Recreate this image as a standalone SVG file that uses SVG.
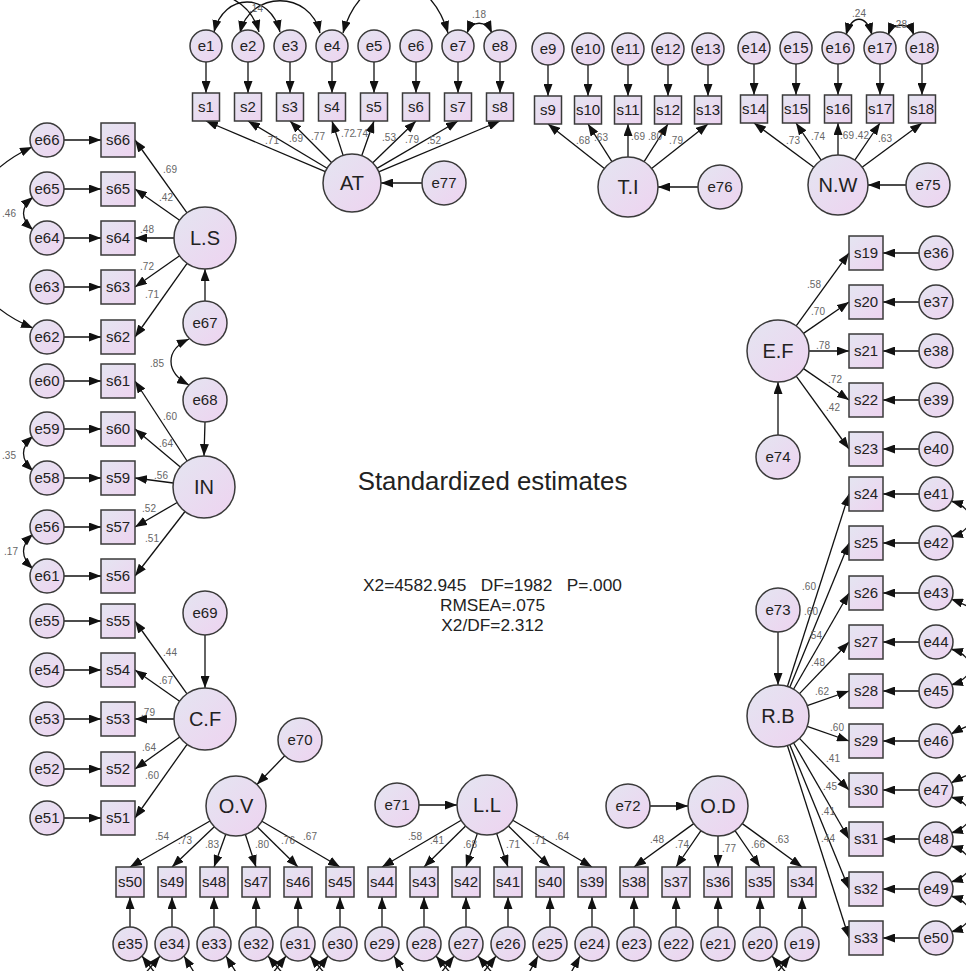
<svg xmlns="http://www.w3.org/2000/svg" width="966" height="971" viewBox="0 0 966 971">
<defs>
<linearGradient id="g" x1="0" y1="0" x2="1" y2="1">
<stop offset="0" stop-color="#e4e5f1"/>
<stop offset="1" stop-color="#eed3f0"/>
</linearGradient>
<marker id="a" viewBox="0 0 12 9" refX="12" refY="4.5" markerWidth="12" markerHeight="9" orient="auto" markerUnits="userSpaceOnUse">
<path d="M0,0 L12,4.5 L0,9 z" fill="#111"/>
</marker>
<marker id="b" viewBox="0 0 12 9" refX="12" refY="4.5" markerWidth="12" markerHeight="9" orient="auto-start-reverse" markerUnits="userSpaceOnUse">
<path d="M0,0 L12,4.5 L0,9 z" fill="#111"/>
</marker>
<style>
circle,rect{fill:url(#g);stroke:#3a3a3a;stroke-width:1.5}
text{font-family:"Liberation Sans",Arial,sans-serif;fill:#222;text-anchor:middle}
.t{font-size:15px}
.L{font-size:20px}
.v{font-size:10px;fill:#666}
#conn line,#conn path.s{stroke:#111;stroke-width:1.3;fill:none;marker-end:url(#a)}
#conn path.d{stroke:#111;stroke-width:1.3;fill:none;marker-start:url(#b);marker-end:url(#b)}
</style>
</defs>
<rect x="0" y="0" width="966" height="971" style="fill:#fff;stroke:none"/>

<g id="conn">
<!-- AT -->
<line x1="206" y1="62" x2="206" y2="93"/><line x1="248" y1="62" x2="248" y2="93"/><line x1="290" y1="62" x2="290" y2="93"/><line x1="332" y1="62" x2="332" y2="93"/>
<line x1="374" y1="62" x2="374" y2="93"/><line x1="416" y1="62" x2="416" y2="93"/><line x1="458" y1="62" x2="458" y2="93"/><line x1="500" y1="62" x2="500" y2="93"/>
<line x1="325.3" y1="171.7" x2="206" y2="121"/><line x1="327.1" y1="168.2" x2="248" y2="121"/><line x1="331.5" y1="162.5" x2="290" y2="121"/><line x1="343.1" y1="155.4" x2="332" y2="121"/>
<line x1="361.7" y1="155.7" x2="374" y2="121"/><line x1="372.8" y1="162.8" x2="416" y2="121"/><line x1="377" y1="168.4" x2="458" y2="121"/><line x1="378.7" y1="171.8" x2="500" y2="121"/>
<line x1="422" y1="183" x2="381" y2="183"/>
<path class="d" d="M214,32 C224,-8 270,-8 280,32"/>
<path class="d" d="M240,33 C250,-10 310,-10 320,33"/>
<path class="s" d="M226,-4 Q252,6 259,32"/>
<path class="d" d="M343,33 C362,-35 428,-35 448,33"/>
<path class="d" d="M467,33 C472,20 486,20 492,33"/>
<!-- T.I -->
<line x1="548" y1="65" x2="548" y2="96"/><line x1="588" y1="65" x2="588" y2="96"/><line x1="628" y1="65" x2="628" y2="96"/><line x1="668" y1="65" x2="668" y2="96"/><line x1="708" y1="65" x2="708" y2="96"/>
<line x1="604.4" y1="168.4" x2="548" y2="124"/><line x1="611.9" y1="161.7" x2="588" y2="124"/><line x1="628" y1="157" x2="628" y2="124"/><line x1="644.1" y1="161.7" x2="668" y2="124"/><line x1="651.6" y1="168.4" x2="708" y2="124"/>
<line x1="698" y1="187" x2="658" y2="187"/>
<!-- N.W -->
<line x1="754" y1="64" x2="754" y2="95"/><line x1="796" y1="64" x2="796" y2="95"/><line x1="838" y1="64" x2="838" y2="95"/><line x1="880" y1="64" x2="880" y2="95"/><line x1="922" y1="64" x2="922" y2="95"/>
<line x1="813.9" y1="167.2" x2="754" y2="123"/><line x1="821.2" y1="160.2" x2="796" y2="123"/><line x1="838" y1="155" x2="838" y2="123"/><line x1="854.8" y1="160.2" x2="880" y2="123"/><line x1="862.1" y1="167.2" x2="922" y2="123"/>
<line x1="906" y1="185" x2="868" y2="185"/>
<path class="d" d="M846,35 C852,14 866,14 872,35"/>
<path class="d" d="M888,35 C893,22 909,22 914,35"/>
<!-- L.S -->
<line x1="64" y1="140" x2="101" y2="140"/><line x1="64" y1="189" x2="101" y2="189"/><line x1="64" y1="238" x2="101" y2="238"/><line x1="64" y1="287" x2="101" y2="287"/><line x1="64" y1="337" x2="101" y2="337"/>
<line x1="187" y1="212.8" x2="135" y2="140"/><line x1="179.6" y1="220.2" x2="135" y2="189"/><line x1="174" y1="238" x2="135" y2="238"/><line x1="179.6" y1="255.8" x2="135" y2="287"/><line x1="187.1" y1="263.3" x2="135" y2="337"/>
<line x1="205" y1="301" x2="205" y2="269"/>
<path class="d" d="M33,197 Q14,213 33,230"/>
<path class="d" d="M32,147 C-60,190 -60,290 33,328"/>
<path class="d" d="M189,339 C165,350 165,372 189,385"/>
<!-- IN -->
<line x1="64" y1="381" x2="101" y2="381"/><line x1="64" y1="429" x2="101" y2="429"/><line x1="64" y1="478" x2="101" y2="478"/><line x1="64" y1="527" x2="101" y2="527"/><line x1="64" y1="576" x2="101" y2="576"/>
<line x1="187.1" y1="461" x2="135" y2="381"/><line x1="180.3" y1="467" x2="135" y2="429"/><line x1="173.3" y1="483" x2="135" y2="478"/><line x1="177.2" y1="502.5" x2="135" y2="527"/><line x1="185" y1="511.5" x2="135" y2="576"/>
<line x1="205" y1="422" x2="204" y2="456"/>
<path class="d" d="M33,436 Q14,453 33,471"/>
<path class="d" d="M33,534 Q14,551 33,569"/>
<!-- C.F -->
<line x1="64" y1="621" x2="101" y2="621"/><line x1="64" y1="670" x2="101" y2="670"/><line x1="64" y1="719" x2="101" y2="719"/><line x1="64" y1="769" x2="101" y2="769"/><line x1="64" y1="818" x2="101" y2="818"/>
<line x1="187" y1="693.8" x2="135" y2="621"/><line x1="179.6" y1="701.2" x2="135" y2="670"/><line x1="174" y1="719" x2="135" y2="719"/><line x1="179.8" y1="737" x2="135" y2="769"/><line x1="187.1" y1="744.3" x2="135" y2="818"/>
<line x1="205" y1="635" x2="205" y2="688"/>
<!-- O.V -->
<line x1="284.7" y1="755.8" x2="256.9" y2="784.5"/>
<line x1="210" y1="821" x2="130" y2="867"/><line x1="214.3" y1="826.7" x2="172" y2="867"/><line x1="225.8" y1="834.2" x2="214" y2="867"/><line x1="245.4" y1="834.5" x2="256" y2="867"/><line x1="257.4" y1="827" x2="298" y2="867"/><line x1="261.9" y1="821.2" x2="340" y2="867"/>
<line x1="130" y1="927" x2="130" y2="897"/><line x1="172" y1="927" x2="172" y2="897"/><line x1="214" y1="927" x2="214" y2="897"/><line x1="256" y1="927" x2="256" y2="897"/><line x1="298" y1="927" x2="298" y2="897"/><line x1="340" y1="927" x2="340" y2="897"/>
<!-- L.L -->
<line x1="419" y1="805" x2="457" y2="805"/>
<line x1="461.2" y1="820.3" x2="382" y2="867"/><line x1="465.6" y1="826" x2="424" y2="867"/><line x1="477.4" y1="833.4" x2="466" y2="867"/><line x1="496.6" y1="833.4" x2="508" y2="867"/><line x1="508.4" y1="826" x2="550" y2="867"/><line x1="512.8" y1="820.3" x2="592" y2="867"/>
<line x1="382" y1="927" x2="382" y2="897"/><line x1="424" y1="927" x2="424" y2="897"/><line x1="466" y1="927" x2="466" y2="897"/><line x1="508" y1="927" x2="508" y2="897"/><line x1="550" y1="927" x2="550" y2="897"/><line x1="592" y1="927" x2="592" y2="897"/>
<!-- O.D -->
<line x1="650" y1="806" x2="688" y2="806"/>
<line x1="693.7" y1="823.6" x2="634" y2="867"/><line x1="701" y1="830.7" x2="676" y2="867"/><line x1="718" y1="836" x2="718" y2="867"/><line x1="735" y1="830.7" x2="760" y2="867"/><line x1="742.3" y1="823.6" x2="802" y2="867"/>
<line x1="634" y1="927" x2="634" y2="897"/><line x1="676" y1="927" x2="676" y2="897"/><line x1="718" y1="927" x2="718" y2="897"/><line x1="760" y1="927" x2="760" y2="897"/><line x1="802" y1="927" x2="802" y2="897"/>
<!-- bottom covariances (cut by the lower edge) -->
<path class="s" d="M162,982 L142,956"/><path class="s" d="M138,982 L160,956"/>
<path class="s" d="M200,982 L184,956"/>
<path class="s" d="M242,982 L226,956"/>
<path class="s" d="M290,982 L268,956"/><path class="s" d="M266,982 L286,956"/>
<path class="s" d="M332,982 L310,956"/><path class="s" d="M308,982 L328,956"/>
<path class="s" d="M410,982 L394,956"/>
<path class="s" d="M458,982 L436,956"/><path class="s" d="M434,982 L454,956"/>
<path class="s" d="M500,982 L478,956"/><path class="s" d="M476,982 L496,956"/>
<path class="s" d="M524,982 L538,956"/>
<path class="s" d="M566,982 L580,956"/>
<path class="s" d="M794,982 L772,956"/><path class="s" d="M770,982 L790,956"/>
<!-- E.F -->
<line x1="778" y1="435" x2="778" y2="382"/>
<line x1="796.2" y1="325.9" x2="849" y2="253"/><line x1="803.5" y1="333.4" x2="849" y2="302"/><line x1="809" y1="351" x2="849" y2="351"/><line x1="803.5" y1="368.6" x2="849" y2="400"/><line x1="796.2" y1="376.1" x2="849" y2="449"/>
<line x1="919" y1="253" x2="883" y2="253"/><line x1="919" y1="302" x2="883" y2="302"/><line x1="919" y1="351" x2="883" y2="351"/><line x1="919" y1="400" x2="883" y2="400"/><line x1="919" y1="449" x2="883" y2="449"/>
<!-- R.B -->
<line x1="778" y1="632" x2="778" y2="685"/>
<line x1="787.4" y1="686.5" x2="849" y2="494"/><line x1="789.8" y1="687.3" x2="849" y2="543"/><line x1="793.5" y1="689.2" x2="849" y2="593"/><line x1="799.5" y1="693.6" x2="849" y2="642"/><line x1="807.2" y1="705.7" x2="849" y2="691"/>
<line x1="807.2" y1="726.3" x2="849" y2="741"/><line x1="799.5" y1="738.4" x2="849" y2="790"/><line x1="793.5" y1="742.8" x2="849" y2="839"/><line x1="789.8" y1="744.7" x2="849" y2="889"/><line x1="787.4" y1="745.5" x2="849" y2="938"/>
<line x1="919" y1="494" x2="883" y2="494"/><line x1="919" y1="543" x2="883" y2="543"/><line x1="919" y1="593" x2="883" y2="593"/><line x1="919" y1="642" x2="883" y2="642"/><line x1="919" y1="691" x2="883" y2="691"/>
<line x1="919" y1="741" x2="883" y2="741"/><line x1="919" y1="790" x2="883" y2="790"/><line x1="919" y1="839" x2="883" y2="839"/><line x1="919" y1="889" x2="883" y2="889"/><line x1="919" y1="938" x2="883" y2="938"/>
<path class="d" d="M951,501 C976,508 976,530 951,537"/>
<path class="s" d="M978,612 Q962,603 951,599"/>
<path class="d" d="M951,649 C976,656 976,678 951,685"/>
<path class="s" d="M978,722 Q962,728 951,734"/>
<path class="s" d="M978,771 Q962,777 951,783"/>
<path class="d" d="M951,797 C976,804 976,826 951,833"/>
<path class="d" d="M951,846 C976,853 976,875 951,882"/>
<path class="d" d="M951,896 C976,903 976,925 951,932"/>
</g>

<g id="coef">
<text class="v" x="272" y="144">.71</text><text class="v" x="296" y="142">.69</text><text class="v" x="318" y="140">.77</text><text class="v" x="348" y="137">.72</text><text class="v" x="361" y="137">.74</text><text class="v" x="389" y="141">.53</text><text class="v" x="412" y="143">.79</text><text class="v" x="434" y="144">.52</text>
<text class="v" x="256" y="12">.14</text><text class="v" x="479" y="18">.18</text>
<text class="v" x="583" y="144">.68</text><text class="v" x="601" y="141">.63</text><text class="v" x="638" y="140">.69</text><text class="v" x="655" y="140">.80</text><text class="v" x="676" y="144">.79</text>
<text class="v" x="793" y="144">.73</text><text class="v" x="818" y="140">.74</text><text class="v" x="847" y="139">.69</text><text class="v" x="862" y="139">.42</text><text class="v" x="885" y="142">.63</text>
<text class="v" x="859" y="17">.24</text><text class="v" x="900" y="28">.28</text>
<text class="v" x="170" y="173">.69</text><text class="v" x="166" y="201">.42</text><text class="v" x="147" y="233">.48</text><text class="v" x="147" y="270">.72</text><text class="v" x="152" y="298">.71</text>
<text class="v" x="9" y="217">.46</text><text class="v" x="157" y="367">.85</text>
<text class="v" x="170" y="420">.60</text><text class="v" x="166" y="447">.64</text><text class="v" x="161" y="479">.56</text><text class="v" x="149" y="512">.52</text><text class="v" x="152" y="542">.51</text>
<text class="v" x="9" y="459">.35</text><text class="v" x="11" y="555">.17</text>
<text class="v" x="170" y="656">.44</text><text class="v" x="166" y="684">.67</text><text class="v" x="148" y="716">.79</text><text class="v" x="149" y="751">.64</text><text class="v" x="152" y="779">.60</text>
<text class="v" x="162" y="840">.54</text><text class="v" x="185" y="844">.73</text><text class="v" x="212" y="848">.83</text><text class="v" x="262" y="848">.80</text><text class="v" x="288" y="844">.76</text><text class="v" x="310" y="840">.67</text>
<text class="v" x="415" y="840">.58</text><text class="v" x="437" y="844">.41</text><text class="v" x="470" y="848">.68</text><text class="v" x="513" y="848">.71</text><text class="v" x="539" y="844">.71</text><text class="v" x="562" y="840">.64</text>
<text class="v" x="657" y="843">.48</text><text class="v" x="682" y="848">.74</text><text class="v" x="729" y="852">.77</text><text class="v" x="758" y="848">.66</text><text class="v" x="782" y="843">.63</text>
<text class="v" x="814" y="288">.58</text><text class="v" x="818" y="315">.70</text><text class="v" x="823" y="349">.78</text><text class="v" x="835" y="383">.72</text><text class="v" x="833" y="411">.42</text>
<text class="v" x="809" y="590">.60</text><text class="v" x="811" y="615">.60</text><text class="v" x="815" y="639">.54</text><text class="v" x="818" y="666">.48</text><text class="v" x="822" y="695">.62</text>
<text class="v" x="837" y="731">.60</text><text class="v" x="833" y="762">.41</text><text class="v" x="830" y="790">.45</text><text class="v" x="828" y="815">.41</text><text class="v" x="828" y="842">.44</text>
</g>

<!-- AT group -->
<g id="e1"><circle cx="206" cy="46" r="16"/><text class="t" x="206" y="51">e1</text></g>
<g id="e2"><circle cx="248" cy="46" r="16"/><text class="t" x="248" y="51">e2</text></g>
<g id="e3"><circle cx="290" cy="46" r="16"/><text class="t" x="290" y="51">e3</text></g>
<g id="e4"><circle cx="332" cy="46" r="16"/><text class="t" x="332" y="51">e4</text></g>
<g id="e5"><circle cx="374" cy="46" r="16"/><text class="t" x="374" y="51">e5</text></g>
<g id="e6"><circle cx="416" cy="46" r="16"/><text class="t" x="416" y="51">e6</text></g>
<g id="e7"><circle cx="458" cy="46" r="16"/><text class="t" x="458" y="51">e7</text></g>
<g id="e8"><circle cx="500" cy="46" r="16"/><text class="t" x="500" y="51">e8</text></g>
<g id="s1"><rect x="192.5" y="93" width="27" height="28"/><text class="t" x="206" y="112">s1</text></g>
<g id="s2"><rect x="234.5" y="93" width="27" height="28"/><text class="t" x="248" y="112">s2</text></g>
<g id="s3"><rect x="276.5" y="93" width="27" height="28"/><text class="t" x="290" y="112">s3</text></g>
<g id="s4"><rect x="318.5" y="93" width="27" height="28"/><text class="t" x="332" y="112">s4</text></g>
<g id="s5"><rect x="360.5" y="93" width="27" height="28"/><text class="t" x="374" y="112">s5</text></g>
<g id="s6"><rect x="402.5" y="93" width="27" height="28"/><text class="t" x="416" y="112">s6</text></g>
<g id="s7"><rect x="444.5" y="93" width="27" height="28"/><text class="t" x="458" y="112">s7</text></g>
<g id="s8"><rect x="486.5" y="93" width="27" height="28"/><text class="t" x="500" y="112">s8</text></g>
<g id="AT"><circle cx="352" cy="183" r="29"/><text class="L" x="352" y="190">AT</text></g>
<g id="e77"><circle cx="444" cy="183" r="22"/><text class="t" x="444" y="188">e77</text></g>

<!-- T.I group -->
<g id="e9"><circle cx="548" cy="49" r="16"/><text class="t" x="548" y="54">e9</text></g>
<g id="e10"><circle cx="588" cy="49" r="16"/><text class="t" x="588" y="54">e10</text></g>
<g id="e11"><circle cx="628" cy="49" r="16"/><text class="t" x="628" y="54">e11</text></g>
<g id="e12"><circle cx="668" cy="49" r="16"/><text class="t" x="668" y="54">e12</text></g>
<g id="e13"><circle cx="708" cy="49" r="16"/><text class="t" x="708" y="54">e13</text></g>
<g id="s9"><rect x="534.5" y="96" width="27" height="28"/><text class="t" x="548" y="115">s9</text></g>
<g id="s10"><rect x="574.5" y="96" width="27" height="28"/><text class="t" x="588" y="115">s10</text></g>
<g id="s11"><rect x="614.5" y="96" width="27" height="28"/><text class="t" x="628" y="115">s11</text></g>
<g id="s12"><rect x="654.5" y="96" width="27" height="28"/><text class="t" x="668" y="115">s12</text></g>
<g id="s13"><rect x="694.5" y="96" width="27" height="28"/><text class="t" x="708" y="115">s13</text></g>
<g id="TI"><circle cx="628" cy="187" r="30"/><text class="L" x="628" y="194">T.I</text></g>
<g id="e76"><circle cx="720" cy="187" r="22"/><text class="t" x="720" y="192">e76</text></g>

<!-- N.W group -->
<g id="e14"><circle cx="754" cy="48" r="16"/><text class="t" x="754" y="53">e14</text></g>
<g id="e15"><circle cx="796" cy="48" r="16"/><text class="t" x="796" y="53">e15</text></g>
<g id="e16"><circle cx="838" cy="48" r="16"/><text class="t" x="838" y="53">e16</text></g>
<g id="e17"><circle cx="880" cy="48" r="16"/><text class="t" x="880" y="53">e17</text></g>
<g id="e18"><circle cx="922" cy="48" r="16"/><text class="t" x="922" y="53">e18</text></g>
<g id="s14"><rect x="740.5" y="95" width="27" height="28"/><text class="t" x="754" y="114">s14</text></g>
<g id="s15"><rect x="782.5" y="95" width="27" height="28"/><text class="t" x="796" y="114">s15</text></g>
<g id="s16"><rect x="824.5" y="95" width="27" height="28"/><text class="t" x="838" y="114">s16</text></g>
<g id="s17"><rect x="866.5" y="95" width="27" height="28"/><text class="t" x="880" y="114">s17</text></g>
<g id="s18"><rect x="908.5" y="95" width="27" height="28"/><text class="t" x="922" y="114">s18</text></g>
<g id="NW"><circle cx="838" cy="185" r="30"/><text class="L" x="838" y="192">N.W</text></g>
<g id="e75"><circle cx="928" cy="185" r="22"/><text class="t" x="928" y="190">e75</text></g>

<!-- L.S group -->
<g id="e66"><circle cx="47" cy="140" r="17"/><text class="t" x="47" y="145">e66</text></g>
<g id="e65"><circle cx="47" cy="189" r="17"/><text class="t" x="47" y="194">e65</text></g>
<g id="e64"><circle cx="47" cy="238" r="17"/><text class="t" x="47" y="243">e64</text></g>
<g id="e63"><circle cx="47" cy="287" r="17"/><text class="t" x="47" y="292">e63</text></g>
<g id="e62"><circle cx="47" cy="337" r="17"/><text class="t" x="47" y="342">e62</text></g>
<g id="s66"><rect x="101" y="123" width="34" height="34"/><text class="t" x="118" y="145">s66</text></g>
<g id="s65"><rect x="101" y="172" width="34" height="34"/><text class="t" x="118" y="194">s65</text></g>
<g id="s64"><rect x="101" y="221" width="34" height="34"/><text class="t" x="118" y="243">s64</text></g>
<g id="s63"><rect x="101" y="270" width="34" height="34"/><text class="t" x="118" y="292">s63</text></g>
<g id="s62"><rect x="101" y="320" width="34" height="34"/><text class="t" x="118" y="342">s62</text></g>
<g id="LS"><circle cx="205" cy="238" r="31"/><text class="L" x="205" y="245">L.S</text></g>
<g id="e67"><circle cx="205" cy="323" r="22"/><text class="t" x="205" y="328">e67</text></g>

<!-- IN group -->
<g id="e60"><circle cx="47" cy="381" r="17"/><text class="t" x="47" y="386">e60</text></g>
<g id="e59"><circle cx="47" cy="429" r="17"/><text class="t" x="47" y="434">e59</text></g>
<g id="e58"><circle cx="47" cy="478" r="17"/><text class="t" x="47" y="483">e58</text></g>
<g id="e56"><circle cx="47" cy="527" r="17"/><text class="t" x="47" y="532">e56</text></g>
<g id="e61"><circle cx="47" cy="576" r="17"/><text class="t" x="47" y="581">e61</text></g>
<g id="s61"><rect x="101" y="364" width="34" height="34"/><text class="t" x="118" y="386">s61</text></g>
<g id="s60"><rect x="101" y="412" width="34" height="34"/><text class="t" x="118" y="434">s60</text></g>
<g id="s59"><rect x="101" y="461" width="34" height="34"/><text class="t" x="118" y="483">s59</text></g>
<g id="s57"><rect x="101" y="510" width="34" height="34"/><text class="t" x="118" y="532">s57</text></g>
<g id="s56"><rect x="101" y="559" width="34" height="34"/><text class="t" x="118" y="581">s56</text></g>
<g id="IN"><circle cx="204" cy="487" r="31"/><text class="L" x="204" y="494">IN</text></g>
<g id="e68"><circle cx="205" cy="400" r="22"/><text class="t" x="205" y="405">e68</text></g>

<!-- C.F group -->
<g id="e55"><circle cx="47" cy="621" r="17"/><text class="t" x="47" y="626">e55</text></g>
<g id="e54"><circle cx="47" cy="670" r="17"/><text class="t" x="47" y="675">e54</text></g>
<g id="e53"><circle cx="47" cy="719" r="17"/><text class="t" x="47" y="724">e53</text></g>
<g id="e52"><circle cx="47" cy="769" r="17"/><text class="t" x="47" y="774">e52</text></g>
<g id="e51"><circle cx="47" cy="818" r="17"/><text class="t" x="47" y="823">e51</text></g>
<g id="s55"><rect x="101" y="604" width="34" height="34"/><text class="t" x="118" y="626">s55</text></g>
<g id="s54"><rect x="101" y="653" width="34" height="34"/><text class="t" x="118" y="675">s54</text></g>
<g id="s53"><rect x="101" y="702" width="34" height="34"/><text class="t" x="118" y="724">s53</text></g>
<g id="s52"><rect x="101" y="752" width="34" height="34"/><text class="t" x="118" y="774">s52</text></g>
<g id="s51"><rect x="101" y="801" width="34" height="34"/><text class="t" x="118" y="823">s51</text></g>
<g id="CF"><circle cx="205" cy="719" r="31"/><text class="L" x="205" y="726">C.F</text></g>
<g id="e69"><circle cx="205" cy="613" r="22"/><text class="t" x="205" y="618">e69</text></g>

<!-- O.V group -->
<g id="OV"><circle cx="236" cy="806" r="30"/><text class="L" x="236" y="813">O.V</text></g>
<g id="e70"><circle cx="300" cy="740" r="22"/><text class="t" x="300" y="745">e70</text></g>
<g id="s50"><rect x="116" y="867" width="28" height="30"/><text class="t" x="130" y="887">s50</text></g>
<g id="s49"><rect x="158" y="867" width="28" height="30"/><text class="t" x="172" y="887">s49</text></g>
<g id="s48"><rect x="200" y="867" width="28" height="30"/><text class="t" x="214" y="887">s48</text></g>
<g id="s47"><rect x="242" y="867" width="28" height="30"/><text class="t" x="256" y="887">s47</text></g>
<g id="s46"><rect x="284" y="867" width="28" height="30"/><text class="t" x="298" y="887">s46</text></g>
<g id="s45"><rect x="326" y="867" width="28" height="30"/><text class="t" x="340" y="887">s45</text></g>
<g id="e35"><circle cx="130" cy="944" r="17"/><text class="t" x="130" y="949">e35</text></g>
<g id="e34"><circle cx="172" cy="944" r="17"/><text class="t" x="172" y="949">e34</text></g>
<g id="e33"><circle cx="214" cy="944" r="17"/><text class="t" x="214" y="949">e33</text></g>
<g id="e32"><circle cx="256" cy="944" r="17"/><text class="t" x="256" y="949">e32</text></g>
<g id="e31"><circle cx="298" cy="944" r="17"/><text class="t" x="298" y="949">e31</text></g>
<g id="e30"><circle cx="340" cy="944" r="17"/><text class="t" x="340" y="949">e30</text></g>

<!-- L.L group -->
<g id="LL"><circle cx="487" cy="805" r="30"/><text class="L" x="487" y="812">L.L</text></g>
<g id="e71"><circle cx="397" cy="805" r="22"/><text class="t" x="397" y="810">e71</text></g>
<g id="s44"><rect x="368" y="867" width="28" height="30"/><text class="t" x="382" y="887">s44</text></g>
<g id="s43"><rect x="410" y="867" width="28" height="30"/><text class="t" x="424" y="887">s43</text></g>
<g id="s42"><rect x="452" y="867" width="28" height="30"/><text class="t" x="466" y="887">s42</text></g>
<g id="s41"><rect x="494" y="867" width="28" height="30"/><text class="t" x="508" y="887">s41</text></g>
<g id="s40"><rect x="536" y="867" width="28" height="30"/><text class="t" x="550" y="887">s40</text></g>
<g id="s39"><rect x="578" y="867" width="28" height="30"/><text class="t" x="592" y="887">s39</text></g>
<g id="e29"><circle cx="382" cy="944" r="17"/><text class="t" x="382" y="949">e29</text></g>
<g id="e28"><circle cx="424" cy="944" r="17"/><text class="t" x="424" y="949">e28</text></g>
<g id="e27"><circle cx="466" cy="944" r="17"/><text class="t" x="466" y="949">e27</text></g>
<g id="e26"><circle cx="508" cy="944" r="17"/><text class="t" x="508" y="949">e26</text></g>
<g id="e25"><circle cx="550" cy="944" r="17"/><text class="t" x="550" y="949">e25</text></g>
<g id="e24"><circle cx="592" cy="944" r="17"/><text class="t" x="592" y="949">e24</text></g>

<!-- O.D group -->
<g id="OD"><circle cx="718" cy="806" r="30"/><text class="L" x="718" y="813">O.D</text></g>
<g id="e72"><circle cx="628" cy="806" r="22"/><text class="t" x="628" y="811">e72</text></g>
<g id="s38"><rect x="620" y="867" width="28" height="30"/><text class="t" x="634" y="887">s38</text></g>
<g id="s37"><rect x="662" y="867" width="28" height="30"/><text class="t" x="676" y="887">s37</text></g>
<g id="s36"><rect x="704" y="867" width="28" height="30"/><text class="t" x="718" y="887">s36</text></g>
<g id="s35"><rect x="746" y="867" width="28" height="30"/><text class="t" x="760" y="887">s35</text></g>
<g id="s34"><rect x="788" y="867" width="28" height="30"/><text class="t" x="802" y="887">s34</text></g>
<g id="e23"><circle cx="634" cy="944" r="17"/><text class="t" x="634" y="949">e23</text></g>
<g id="e22"><circle cx="676" cy="944" r="17"/><text class="t" x="676" y="949">e22</text></g>
<g id="e21"><circle cx="718" cy="944" r="17"/><text class="t" x="718" y="949">e21</text></g>
<g id="e20"><circle cx="760" cy="944" r="17"/><text class="t" x="760" y="949">e20</text></g>
<g id="e19"><circle cx="802" cy="944" r="17"/><text class="t" x="802" y="949">e19</text></g>

<!-- E.F group -->
<g id="EF"><circle cx="778" cy="351" r="31"/><text class="L" x="778" y="358">E.F</text></g>
<g id="e74"><circle cx="778" cy="457" r="22"/><text class="t" x="778" y="462">e74</text></g>
<g id="s19"><rect x="849" y="236" width="34" height="34"/><text class="t" x="866" y="258">s19</text></g>
<g id="s20"><rect x="849" y="285" width="34" height="34"/><text class="t" x="866" y="307">s20</text></g>
<g id="s21"><rect x="849" y="334" width="34" height="34"/><text class="t" x="866" y="356">s21</text></g>
<g id="s22"><rect x="849" y="383" width="34" height="34"/><text class="t" x="866" y="405">s22</text></g>
<g id="s23"><rect x="849" y="432" width="34" height="34"/><text class="t" x="866" y="454">s23</text></g>
<g id="e36"><circle cx="936" cy="253" r="17"/><text class="t" x="936" y="258">e36</text></g>
<g id="e37"><circle cx="936" cy="302" r="17"/><text class="t" x="936" y="307">e37</text></g>
<g id="e38"><circle cx="936" cy="351" r="17"/><text class="t" x="936" y="356">e38</text></g>
<g id="e39"><circle cx="936" cy="400" r="17"/><text class="t" x="936" y="405">e39</text></g>
<g id="e40"><circle cx="936" cy="449" r="17"/><text class="t" x="936" y="454">e40</text></g>

<!-- R.B group -->
<g id="RB"><circle cx="778" cy="716" r="31"/><text class="L" x="778" y="723">R.B</text></g>
<g id="e73"><circle cx="778" cy="610" r="22"/><text class="t" x="778" y="615">e73</text></g>
<g id="s24"><rect x="849" y="477" width="34" height="34"/><text class="t" x="866" y="499">s24</text></g>
<g id="s25"><rect x="849" y="526" width="34" height="34"/><text class="t" x="866" y="548">s25</text></g>
<g id="s26"><rect x="849" y="576" width="34" height="34"/><text class="t" x="866" y="598">s26</text></g>
<g id="s27"><rect x="849" y="625" width="34" height="34"/><text class="t" x="866" y="647">s27</text></g>
<g id="s28"><rect x="849" y="674" width="34" height="34"/><text class="t" x="866" y="696">s28</text></g>
<g id="s29"><rect x="849" y="724" width="34" height="34"/><text class="t" x="866" y="746">s29</text></g>
<g id="s30"><rect x="849" y="773" width="34" height="34"/><text class="t" x="866" y="795">s30</text></g>
<g id="s31"><rect x="849" y="822" width="34" height="34"/><text class="t" x="866" y="844">s31</text></g>
<g id="s32"><rect x="849" y="872" width="34" height="34"/><text class="t" x="866" y="894">s32</text></g>
<g id="s33"><rect x="849" y="921" width="34" height="34"/><text class="t" x="866" y="943">s33</text></g>
<g id="e41"><circle cx="936" cy="494" r="17"/><text class="t" x="936" y="499">e41</text></g>
<g id="e42"><circle cx="936" cy="543" r="17"/><text class="t" x="936" y="548">e42</text></g>
<g id="e43"><circle cx="936" cy="593" r="17"/><text class="t" x="936" y="598">e43</text></g>
<g id="e44"><circle cx="936" cy="642" r="17"/><text class="t" x="936" y="647">e44</text></g>
<g id="e45"><circle cx="936" cy="691" r="17"/><text class="t" x="936" y="696">e45</text></g>
<g id="e46"><circle cx="936" cy="741" r="17"/><text class="t" x="936" y="746">e46</text></g>
<g id="e47"><circle cx="936" cy="790" r="17"/><text class="t" x="936" y="795">e47</text></g>
<g id="e48"><circle cx="936" cy="839" r="17"/><text class="t" x="936" y="844">e48</text></g>
<g id="e49"><circle cx="936" cy="889" r="17"/><text class="t" x="936" y="894">e49</text></g>
<g id="e50"><circle cx="936" cy="938" r="17"/><text class="t" x="936" y="943">e50</text></g>

<g id="title">
<text x="492.5" y="490" style="font-size:25.8px">Standardized estimates</text>
<text x="492.5" y="591" style="font-size:17.3px" xml:space="preserve">X2=4582.945   DF=1982   P=.000</text>
<text x="492.5" y="611" style="font-size:17.3px">RMSEA=.075</text>
<text x="492.5" y="631" style="font-size:17.3px">X2/DF=2.312</text>
</g>
</svg>
